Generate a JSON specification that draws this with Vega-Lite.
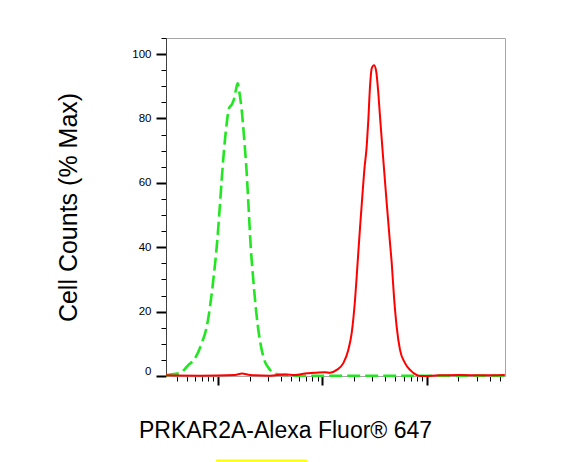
{
  "$schema": "https://vega.github.io/schema/vega-lite/v6.json",
  "width": 339,
  "height": 338,
  "autosize": {"type": "none"},
  "padding": {"left": 166, "top": 38, "right": 82, "bottom": 86},
  "background": "white",
  "config": {
    "font": "Liberation Sans",
    "view": {"stroke": "#a6a6a6", "strokeWidth": 1}
  },
  "datasets": {
    "hist": [
      {"sample": "Isotype control", "intensity": 31.6, "count": 0.2},
      {"sample": "Isotype control", "intensity": 37.2, "count": 0.6},
      {"sample": "Isotype control", "intensity": 43, "count": 0.9},
      {"sample": "Isotype control", "intensity": 51.7, "count": 3.4},
      {"sample": "Isotype control", "intensity": 60, "count": 5.5},
      {"sample": "Isotype control", "intensity": 69.6, "count": 10.2},
      {"sample": "Isotype control", "intensity": 77.7, "count": 15.3},
      {"sample": "Isotype control", "intensity": 83.5, "count": 21.5},
      {"sample": "Isotype control", "intensity": 89.8, "count": 29.8},
      {"sample": "Isotype control", "intensity": 96.9, "count": 40.2},
      {"sample": "Isotype control", "intensity": 102.6, "count": 50.5},
      {"sample": "Isotype control", "intensity": 108.1, "count": 60.9},
      {"sample": "Isotype control", "intensity": 113.8, "count": 70.2},
      {"sample": "Isotype control", "intensity": 120.8, "count": 78.5},
      {"sample": "Isotype control", "intensity": 127.1, "count": 83.2},
      {"sample": "Isotype control", "intensity": 134.9, "count": 84.3},
      {"sample": "Isotype control", "intensity": 141.9, "count": 86.0},
      {"sample": "Isotype control", "intensity": 148.3, "count": 89.0},
      {"sample": "Isotype control", "intensity": 153.9, "count": 90.9},
      {"sample": "Isotype control", "intensity": 159.5, "count": 88.3},
      {"sample": "Isotype control", "intensity": 168.2, "count": 82.6},
      {"sample": "Isotype control", "intensity": 177, "count": 74.3},
      {"sample": "Isotype control", "intensity": 187.8, "count": 63.0},
      {"sample": "Isotype control", "intensity": 196.3, "count": 51.6},
      {"sample": "Isotype control", "intensity": 205.2, "count": 40.2},
      {"sample": "Isotype control", "intensity": 217.3, "count": 29.8},
      {"sample": "Isotype control", "intensity": 230.7, "count": 20.5},
      {"sample": "Isotype control", "intensity": 248.1, "count": 12.2},
      {"sample": "Isotype control", "intensity": 271, "count": 6.0},
      {"sample": "Isotype control", "intensity": 314, "count": 1.9},
      {"sample": "Isotype control", "intensity": 364, "count": 0.6},
      {"sample": "Isotype control", "intensity": 454, "count": 0.3},
      {"sample": "Isotype control", "intensity": 609, "count": 0.1},
      {"sample": "Isotype control", "intensity": 1837, "count": 0.1},
      {"sample": "Isotype control", "intensity": 5540, "count": 0.1},
      {"sample": "Isotype control", "intensity": 16710, "count": 0.1},
      {"sample": "Isotype control", "intensity": 56000, "count": 0.1},
      {"sample": "PRKAR2A", "intensity": 31.6, "count": 0.2},
      {"sample": "PRKAR2A", "intensity": 67, "count": 0.1},
      {"sample": "PRKAR2A", "intensity": 145, "count": 0.3},
      {"sample": "PRKAR2A", "intensity": 169, "count": 0.8},
      {"sample": "PRKAR2A", "intensity": 202, "count": 0.3},
      {"sample": "PRKAR2A", "intensity": 314, "count": 0.1},
      {"sample": "PRKAR2A", "intensity": 437, "count": 0.5},
      {"sample": "PRKAR2A", "intensity": 546, "count": 0.3},
      {"sample": "PRKAR2A", "intensity": 680, "count": 0.8},
      {"sample": "PRKAR2A", "intensity": 848, "count": 1.0},
      {"sample": "PRKAR2A", "intensity": 1058, "count": 1.2},
      {"sample": "PRKAR2A", "intensity": 1181, "count": 1.0},
      {"sample": "PRKAR2A", "intensity": 1370, "count": 1.9},
      {"sample": "PRKAR2A", "intensity": 1585, "count": 4.0},
      {"sample": "PRKAR2A", "intensity": 1769, "count": 8.1},
      {"sample": "PRKAR2A", "intensity": 1907, "count": 13.4},
      {"sample": "PRKAR2A", "intensity": 2052, "count": 23.6},
      {"sample": "PRKAR2A", "intensity": 2159, "count": 33.9},
      {"sample": "PRKAR2A", "intensity": 2291, "count": 46.0},
      {"sample": "PRKAR2A", "intensity": 2432, "count": 57.5},
      {"sample": "PRKAR2A", "intensity": 2519, "count": 64.0},
      {"sample": "PRKAR2A", "intensity": 2657, "count": 71.5},
      {"sample": "PRKAR2A", "intensity": 2752, "count": 79.5},
      {"sample": "PRKAR2A", "intensity": 2857, "count": 90.0},
      {"sample": "PRKAR2A", "intensity": 2967, "count": 95.6},
      {"sample": "PRKAR2A", "intensity": 3121, "count": 96.5},
      {"sample": "PRKAR2A", "intensity": 3262, "count": 95.0},
      {"sample": "PRKAR2A", "intensity": 3432, "count": 87.9},
      {"sample": "PRKAR2A", "intensity": 3563, "count": 80.5},
      {"sample": "PRKAR2A", "intensity": 3832, "count": 67.1},
      {"sample": "PRKAR2A", "intensity": 4130, "count": 53.7},
      {"sample": "PRKAR2A", "intensity": 4442, "count": 41.3},
      {"sample": "PRKAR2A", "intensity": 4613, "count": 35.1},
      {"sample": "PRKAR2A", "intensity": 4853, "count": 24.5},
      {"sample": "PRKAR2A", "intensity": 5151, "count": 15.2},
      {"sample": "PRKAR2A", "intensity": 5540, "count": 8.1},
      {"sample": "PRKAR2A", "intensity": 6187, "count": 4.0},
      {"sample": "PRKAR2A", "intensity": 6909, "count": 1.9},
      {"sample": "PRKAR2A", "intensity": 8010, "count": 0.3},
      {"sample": "PRKAR2A", "intensity": 8615, "count": 0.0},
      {"sample": "PRKAR2A", "intensity": 13400, "count": 0.2},
      {"sample": "PRKAR2A", "intensity": 20830, "count": 0.3},
      {"sample": "PRKAR2A", "intensity": 32390, "count": 0.2},
      {"sample": "PRKAR2A", "intensity": 56000, "count": 0.3}
    ],
    "highlight": [
      {"intensity": 95.4, "intensity_end": 711, "count": -26.25}
    ]
  },
  "encoding": {
    "x": {
      "field": "intensity",
      "type": "quantitative",
      "scale": {"type": "log", "domain": [31.62, 56234], "nice": false},
      "axis": {
        "title": "PRKAR2A-Alexa Fluor® 647",
        "values": [40, 50, 60, 70, 80, 90, 100, 200, 300, 400, 500, 600, 700, 800, 900, 1000, 2000, 3000, 4000, 5000, 6000, 7000, 8000, 9000, 10000, 20000, 30000, 40000, 50000],
        "labels": false,
        "grid": false,
        "tickColor": "#000000",
        "tickSize": {"condition": {"test": "datum.value == 100 || datum.value == 1000 || datum.value == 10000", "value": 9}, "value": 5},
        "tickWidth": {"condition": {"test": "datum.value == 100 || datum.value == 1000 || datum.value == 10000", "value": 2}, "value": 1},
        "domainColor": "#a6a6a6",
        "titleFont": "Liberation Sans",
        "titleFontSize": 23,
        "titleFontWeight": "normal",
        "titleColor": "#000000",
        "titleX": 119,
        "titleY": 61,
        "titleAlign": "center",
        "titleBaseline": "alphabetic"
      }
    },
    "y": {
      "field": "count",
      "type": "quantitative",
      "scale": {"domain": [0, 105], "nice": false},
      "axis": {
        "title": "Cell Counts (% Max)",
        "values": [0, 5, 10, 15, 20, 25, 30, 35, 40, 45, 50, 55, 60, 65, 70, 75, 80, 85, 90, 95, 100, 105],
        "labelExpr": "datum.value % 20 == 0 ? datum.label : ''",
        "labelOverlap": false,
        "labelFlush": true,
        "labelFont": "Liberation Sans",
        "labelFontSize": 11.5,
        "labelColor": "#000000",
        "labelPadding": 5,
        "grid": false,
        "tickColor": "#000000",
        "tickSize": {"condition": {"test": "datum.value % 20 == 0", "value": 10}, "value": 5},
        "tickWidth": {"condition": {"test": "datum.value % 20 == 0", "value": 2}, "value": 1},
        "domainColor": "#404040",
        "titleFont": "Liberation Sans",
        "titleFontSize": 25,
        "titleFontWeight": "normal",
        "titleColor": "#000000",
        "titleAngle": 270,
        "titleX": -90,
        "titleY": 169,
        "titleAlign": "center",
        "titleBaseline": "alphabetic"
      }
    }
  },
  "layer": [
    {
      "data": {"name": "hist"},
      "transform": [{"filter": "datum.sample == 'Isotype control'"}],
      "mark": {"type": "line", "interpolate": "monotone", "color": "#22e622", "strokeWidth": 2.6, "strokeDash": [13, 5]}
    },
    {
      "data": {"name": "hist"},
      "transform": [{"filter": "datum.sample == 'PRKAR2A'"}],
      "mark": {"type": "line", "interpolate": "monotone", "color": "#ff0000", "strokeWidth": 2}
    },
    {
      "data": {"name": "highlight"},
      "mark": {"type": "rule", "color": "#ffff00", "strokeWidth": 2, "clip": false},
      "encoding": {
        "x2": {"field": "intensity_end"}
      }
    }
  ]
}
